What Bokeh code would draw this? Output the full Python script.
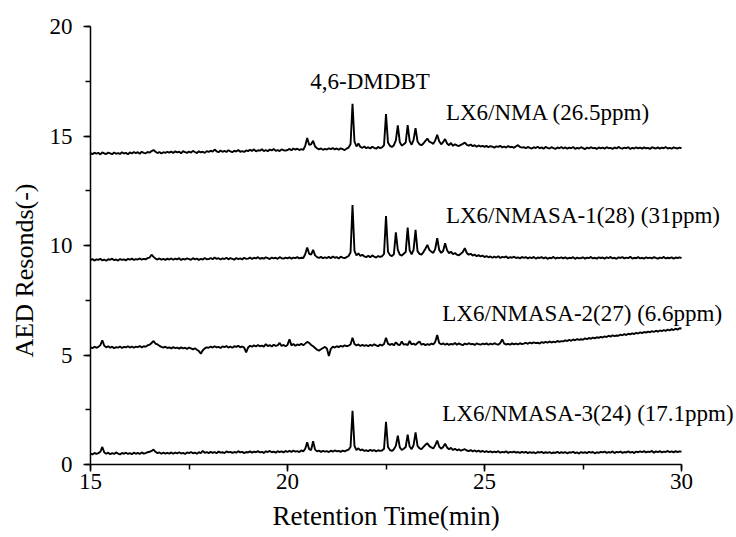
import numpy as np
from bokeh.plotting import figure
from bokeh.models import Range1d, SingleIntervalTicker, Label, Title
from bokeh.embed import file_html
from bokeh.resources import INLINE

# Sampling grid of the chromatograms (min), 0.05 min step
time_min = [round(15 + 0.05 * i, 2) for i in range(301)]

lx6_nma = [
    14.22, 14.17, 14.24, 14.19, 14.23, 14.16, 14.25, 14.20, 14.18, 14.24, 14.21, 14.17, 14.25, 14.19, 14.22, 14.18, 14.26, 14.20, 14.23, 14.17,
    14.25, 14.20, 14.27, 14.22, 14.26, 14.19, 14.28, 14.23, 14.21, 14.27, 14.24, 14.31, 14.36, 14.28, 14.22, 14.27, 14.20, 14.26, 14.23, 14.28,
    14.24, 14.29, 14.22, 14.30, 14.25, 14.28, 14.21, 14.31, 14.26, 14.23, 14.29, 14.24, 14.32, 14.27, 14.22, 14.30, 14.25, 14.28, 14.23, 14.31,
    14.27, 14.33, 14.29, 14.38, 14.30, 14.26, 14.34, 14.28, 14.32, 14.27, 14.35, 14.30, 14.26, 14.33, 14.29, 14.36, 14.28, 14.31, 14.27, 14.34,
    14.31, 14.37, 14.32, 14.39, 14.30, 14.35, 14.33, 14.40, 14.31, 14.36, 14.30, 14.38, 14.34, 14.41, 14.32, 14.36, 14.31, 14.39, 14.35, 14.33,
    14.36, 14.41, 14.35, 14.43, 14.38, 14.42, 14.36, 14.40, 14.37, 14.55, 14.91, 14.60, 14.62, 14.78, 14.52, 14.44, 14.39, 14.43, 14.37, 14.41,
    14.38, 14.44, 14.40, 14.45, 14.39, 14.43, 14.37, 14.44, 14.40, 14.36, 14.42, 14.47, 14.62, 16.47, 14.75, 14.52, 14.66, 14.50, 14.46, 14.52,
    14.44, 14.49, 14.43, 14.51, 14.46, 14.42, 14.50, 14.45, 14.48, 14.58, 16.00, 14.70, 14.55, 14.50, 14.58, 14.80, 15.49, 14.72, 14.56, 14.62,
    14.70, 15.50, 14.78, 14.60, 14.82, 15.36, 14.75, 14.62, 14.58, 14.66, 14.78, 14.88, 14.74, 14.70, 14.64, 14.80, 15.06, 14.76, 14.62, 14.72,
    14.86, 14.66, 14.58, 14.68, 14.55, 14.62, 14.57, 14.54, 14.60, 14.64, 14.70, 14.60, 14.56, 14.61, 14.53, 14.58, 14.51, 14.57, 14.52, 14.55,
    14.50, 14.55, 14.49, 14.54, 14.51, 14.47, 14.53, 14.50, 14.55, 14.48, 14.52, 14.47, 14.54, 14.49, 14.51, 14.46, 14.53, 14.58, 14.50, 14.47,
    14.49, 14.44, 14.50, 14.46, 14.43, 14.49, 14.45, 14.51, 14.44, 14.48, 14.42, 14.50, 14.46, 14.43, 14.49, 14.45, 14.41, 14.48, 14.44, 14.50,
    14.43, 14.48, 14.42, 14.47, 14.44, 14.50, 14.41, 14.46, 14.43, 14.49, 14.45, 14.40, 14.47, 14.43, 14.49, 14.44, 14.46, 14.41, 14.48, 14.44,
    14.47, 14.42, 14.49, 14.44, 14.46, 14.41, 14.48, 14.43, 14.50, 14.45, 14.42, 14.47, 14.44, 14.49, 14.41, 14.46, 14.43, 14.48, 14.44, 14.47,
    14.42, 14.48, 14.44, 14.46, 14.41, 14.49, 14.45, 14.43, 14.48, 14.42, 14.47, 14.44, 14.50, 14.43, 14.46, 14.42, 14.48, 14.45, 14.43, 14.47,
    14.44,
]

lx6_nmasa1 = [
    9.33, 9.38, 9.31, 9.37, 9.34, 9.39, 9.32, 9.36, 9.30, 9.37, 9.35, 9.40, 9.33, 9.36, 9.31, 9.38, 9.34, 9.37, 9.32, 9.39,
    9.35, 9.40, 9.34, 9.38, 9.36, 9.41, 9.35, 9.39, 9.37, 9.42, 9.45, 9.58, 9.48, 9.40, 9.36, 9.41, 9.35, 9.39, 9.34, 9.40,
    9.36, 9.41, 9.35, 9.40, 9.37, 9.42, 9.34, 9.39, 9.36, 9.41, 9.38, 9.35, 9.42, 9.37, 9.40, 9.34, 9.39, 9.36, 9.43, 9.37,
    9.38, 9.43, 9.37, 9.45, 9.39, 9.42, 9.36, 9.41, 9.38, 9.44, 9.37, 9.42, 9.39, 9.35, 9.43, 9.38, 9.41, 9.36, 9.44, 9.39,
    9.40, 9.45, 9.38, 9.44, 9.41, 9.47, 9.39, 9.43, 9.40, 9.46, 9.42, 9.38, 9.45, 9.41, 9.44, 9.39, 9.47, 9.42, 9.40, 9.45,
    9.41, 9.46, 9.40, 9.45, 9.42, 9.47, 9.41, 9.44, 9.43, 9.60, 9.91, 9.62, 9.58, 9.80, 9.55, 9.47, 9.43, 9.48, 9.42, 9.46,
    9.43, 9.48, 9.42, 9.50, 9.44, 9.47, 9.41, 9.49, 9.45, 9.42, 9.47, 9.52, 9.68, 11.85, 9.75, 9.55, 9.64, 9.52, 9.58, 9.50,
    9.47, 9.53, 9.46, 9.55, 9.49, 9.45, 9.52, 9.48, 9.51, 9.62, 11.35, 9.72, 9.56, 9.52, 9.60, 10.60, 9.80, 9.58, 9.54, 9.62,
    9.70, 10.82, 9.78, 9.60, 9.80, 10.71, 9.74, 9.62, 9.58, 9.70, 9.85, 10.03, 9.80, 9.72, 9.66, 9.85, 10.33, 9.80, 9.66, 9.75,
    10.10, 9.78, 9.65, 9.72, 9.60, 9.66, 9.58, 9.55, 9.62, 9.70, 9.88, 9.66, 9.58, 9.62, 9.54, 9.59, 9.51, 9.56, 9.50, 9.54,
    9.47, 9.52, 9.46, 9.50, 9.44, 9.49, 9.45, 9.51, 9.43, 9.48, 9.46, 9.50, 9.42, 9.47, 9.44, 9.49, 9.43, 9.46, 9.41, 9.48,
    9.43, 9.47, 9.41, 9.46, 9.42, 9.48, 9.40, 9.45, 9.43, 9.47, 9.41, 9.46, 9.39, 9.44, 9.42, 9.48, 9.40, 9.45, 9.42, 9.46,
    9.41, 9.46, 9.40, 9.44, 9.42, 9.47, 9.39, 9.45, 9.41, 9.43, 9.46, 9.40, 9.45, 9.42, 9.48, 9.41, 9.44, 9.40, 9.46, 9.43,
    9.45, 9.40, 9.46, 9.42, 9.48, 9.41, 9.44, 9.39, 9.46, 9.43, 9.47, 9.41, 9.45, 9.42, 9.49, 9.40, 9.44, 9.42, 9.47, 9.41,
    9.44, 9.40, 9.46, 9.42, 9.45, 9.41, 9.47, 9.43, 9.40, 9.45, 9.42, 9.48, 9.41, 9.44, 9.42, 9.46, 9.40, 9.45, 9.43, 9.46,
    9.42,
]

lx6_nmasa2 = [
    5.36, 5.31, 5.38, 5.33, 5.37, 5.45, 5.67, 5.42, 5.35, 5.40, 5.33, 5.38, 5.31, 5.36, 5.34, 5.39, 5.32, 5.37, 5.35, 5.40,
    5.34, 5.39, 5.33, 5.38, 5.36, 5.41, 5.35, 5.40, 5.38, 5.44, 5.47, 5.55, 5.64, 5.52, 5.48, 5.42, 5.37, 5.34, 5.38, 5.32,
    5.35, 5.30, 5.36, 5.31, 5.34, 5.29, 5.35, 5.30, 5.33, 5.28, 5.34, 5.30, 5.26, 5.31, 5.24, 5.18, 5.06, 5.22, 5.30, 5.35,
    5.33, 5.38, 5.34, 5.40, 5.35, 5.37, 5.32, 5.39, 5.36, 5.41, 5.34, 5.38, 5.33, 5.40, 5.37, 5.42, 5.35, 5.39, 5.34, 5.12,
    5.34, 5.42, 5.38, 5.44, 5.39, 5.46, 5.40, 5.43, 5.38, 5.50, 5.41, 5.45, 5.39, 5.47, 5.42, 5.44, 5.55, 5.41, 5.46, 5.40,
    5.46, 5.72, 5.44, 5.50, 5.42, 5.48, 5.45, 5.51, 5.44, 5.52, 5.60, 5.55, 5.46, 5.40, 5.32, 5.24, 5.20, 5.26, 5.32, 5.37,
    5.30, 4.95, 5.28, 5.38, 5.34, 5.40, 5.36, 5.42, 5.38, 5.44, 5.40, 5.43, 5.48, 5.79, 5.50, 5.44, 5.48, 5.41, 5.46, 5.42,
    5.45, 5.40, 5.47, 5.42, 5.49, 5.44, 5.40, 5.48, 5.43, 5.50, 5.79, 5.52, 5.46, 5.51, 5.44, 5.58, 5.48, 5.45, 5.62, 5.47,
    5.50, 5.45, 5.64, 5.48, 5.52, 5.46, 5.55, 5.62, 5.47, 5.51, 5.45, 5.50, 5.46, 5.52, 5.48, 5.60, 5.91, 5.55, 5.49, 5.53,
    5.47, 5.52, 5.46, 5.51, 5.48, 5.55, 5.47, 5.53, 5.49, 5.45, 5.52, 5.48, 5.54, 5.49, 5.51, 5.46, 5.53, 5.50, 5.47, 5.52,
    5.49, 5.53, 5.47, 5.52, 5.48, 5.54, 5.50, 5.47, 5.55, 5.71, 5.52, 5.48, 5.51, 5.47, 5.53, 5.49, 5.52, 5.48, 5.54, 5.50,
    5.52, 5.56, 5.51, 5.57, 5.53, 5.58, 5.54, 5.56, 5.52, 5.59, 5.55, 5.60, 5.56, 5.62, 5.57, 5.61, 5.58, 5.64, 5.60, 5.63,
    5.62, 5.67, 5.64, 5.69, 5.65, 5.71, 5.67, 5.73, 5.69, 5.72, 5.70, 5.76, 5.72, 5.78, 5.74, 5.79, 5.76, 5.81, 5.78, 5.83,
    5.80, 5.85, 5.82, 5.88, 5.84, 5.90, 5.86, 5.89, 5.88, 5.93, 5.90, 5.95, 5.91, 5.97, 5.94, 5.99, 5.96, 6.01, 5.98, 6.03,
    6.00, 6.05, 6.02, 6.07, 6.04, 6.09, 6.05, 6.11, 6.07, 6.12, 6.09, 6.14, 6.10, 6.16, 6.12, 6.18, 6.14, 6.20, 6.16, 6.22,
    6.21,
]

lx6_nmasa3 = [
    0.50, 0.46, 0.53, 0.48, 0.52, 0.58, 0.80, 0.55, 0.49, 0.54, 0.47, 0.52, 0.48, 0.55, 0.50, 0.46, 0.53, 0.49, 0.54, 0.48,
    0.52, 0.47, 0.54, 0.49, 0.53, 0.48, 0.55, 0.50, 0.52, 0.56, 0.58, 0.62, 0.68, 0.58, 0.52, 0.55, 0.49, 0.54, 0.50, 0.53,
    0.50, 0.55, 0.49, 0.54, 0.51, 0.56, 0.50, 0.53, 0.48, 0.55, 0.52, 0.57, 0.51, 0.54, 0.49, 0.56, 0.52, 0.62, 0.53, 0.57,
    0.52, 0.58, 0.53, 0.57, 0.51, 0.59, 0.54, 0.56, 0.52, 0.60, 0.55, 0.58, 0.53, 0.57, 0.54, 0.61, 0.55, 0.58, 0.52, 0.57,
    0.55, 0.60, 0.54, 0.59, 0.56, 0.61, 0.55, 0.58, 0.53, 0.60, 0.57, 0.62, 0.56, 0.59, 0.54, 0.61, 0.57, 0.60, 0.55, 0.62,
    0.57, 0.62, 0.58, 0.63, 0.59, 0.61, 0.57, 0.64, 0.60, 0.72, 1.01, 0.70, 0.66, 1.06, 0.68, 0.60, 0.63, 0.58, 0.62, 0.59,
    0.61, 0.57, 0.63, 0.59, 0.64, 0.60, 0.62, 0.58, 0.63, 0.60, 0.64, 0.68, 0.80, 2.45, 0.85, 0.66, 0.74, 0.64, 0.69, 0.62,
    0.65, 0.61, 0.67, 0.62, 0.66, 0.60, 0.65, 0.62, 0.64, 0.72, 1.95, 0.80, 0.66, 0.62, 0.70, 0.85, 1.32, 0.78, 0.66, 0.72,
    0.80, 1.36, 0.82, 0.70, 0.88, 1.47, 0.85, 0.74, 0.70, 0.80, 0.90, 0.97, 0.84, 0.78, 0.73, 0.88, 1.09, 0.82, 0.72, 0.80,
    0.95, 0.78, 0.70, 0.76, 0.66, 0.72, 0.65, 0.69, 0.63, 0.67, 0.70, 0.64, 0.61, 0.66, 0.60, 0.64, 0.59, 0.63, 0.58, 0.62,
    0.57, 0.61, 0.56, 0.60, 0.55, 0.59, 0.56, 0.61, 0.54, 0.58, 0.55, 0.60, 0.53, 0.58, 0.55, 0.59, 0.54, 0.57, 0.53, 0.58,
    0.54, 0.58, 0.52, 0.57, 0.53, 0.56, 0.51, 0.57, 0.54, 0.58, 0.52, 0.56, 0.53, 0.57, 0.51, 0.55, 0.53, 0.58, 0.52, 0.56,
    0.53, 0.57, 0.51, 0.56, 0.54, 0.58, 0.52, 0.55, 0.50, 0.57, 0.53, 0.56, 0.52, 0.58, 0.54, 0.57, 0.51, 0.56, 0.53, 0.58,
    0.55, 0.59, 0.53, 0.57, 0.54, 0.60, 0.52, 0.58, 0.55, 0.59, 0.53, 0.57, 0.55, 0.60, 0.54, 0.58, 0.52, 0.59, 0.56, 0.60,
    0.56, 0.61, 0.55, 0.59, 0.57, 0.62, 0.54, 0.60, 0.56, 0.61, 0.55, 0.59, 0.57, 0.62, 0.56, 0.60, 0.55, 0.61, 0.57, 0.60,
    0.59,
]

series = [lx6_nma, lx6_nmasa1, lx6_nmasa2, lx6_nmasa3]
series_labels = ["LX6/NMA (26.5ppm)", "LX6/NMASA-1(28) (31ppm)",
                 "LX6/NMASA-2(27) (6.6ppm)", "LX6/NMASA-3(24) (17.1ppm)"]
label_x = [24.02, 24.02, 23.93, 23.93]
label_y = [16.08, 11.36, 6.91, 2.34]
peak_label = "4,6-DMDBT"
peak_label_x = 20.58
peak_label_y = 17.51
x_title = "Retention Time(min)"
y_title = "AED Resonds(-)"

FONT = "Liberation Serif"

# frame: x=15 at 90px, x=30 at 681px; extended to the right edge so labels are not clipped
PX_PER_MIN = (681 - 90) / 15.0
x_end = 15 + (736 - 90) / PX_PER_MIN

p = figure(width=736, height=537, output_backend="svg", toolbar_location=None,
           x_range=Range1d(15, x_end), y_range=Range1d(0, 20),
           min_border_left=90, min_border_right=0, min_border_top=26, min_border_bottom=73)
p.outline_line_color = None
p.xgrid.visible = False
p.ygrid.visible = False
p.background_fill_color = "white"
p.border_fill_color = "white"

for ys in series:
    p.line(time_min, ys, line_color="black", line_width=1.9)

for ax in (p.xaxis[0], p.yaxis[0]):
    ax.ticker = SingleIntervalTicker(interval=5, num_minor_ticks=2)
    ax.axis_line_width = 1.5
    ax.axis_line_color = "black"
    ax.major_tick_line_width = 1.5
    ax.minor_tick_line_width = 1.5
    ax.major_tick_line_color = "black"
    ax.minor_tick_line_color = "black"
    ax.major_tick_out = 7
    ax.major_tick_in = 0
    ax.minor_tick_out = 5
    ax.minor_tick_in = 0
    ax.major_label_text_font = FONT
    ax.major_label_text_font_size = "23px"
    ax.major_label_text_color = "black"

p.xaxis[0].bounds = (15, 30)
p.yaxis[0].major_label_standoff = 11
p.xaxis[0].major_label_standoff = 2

# titles placed with left alignment + offset (offset is ignored for centered titles)
p.add_layout(Title(text=x_title, align="left", offset=182, standoff=14,
                   text_font=FONT, text_font_size="27px", text_font_style="normal",
                   text_color="black"), "below")
p.add_layout(Title(text=y_title, align="left", offset=107, standoff=15,
                   text_font=FONT, text_font_size="26px", text_font_style="normal",
                   text_color="black"), "left")

for txt, lx, ly in zip(series_labels, label_x, label_y):
    p.add_layout(Label(x=lx, y=ly, text=txt, text_font=FONT, text_font_size="23px",
                       text_color="black", text_baseline="alphabetic", text_align="left"))

p.add_layout(Label(x=peak_label_x, y=peak_label_y, text=peak_label, text_font=FONT,
                   text_font_size="23px", text_color="black",
                   text_baseline="alphabetic", text_align="left"))

open("out.html", "w").write(file_html(p, INLINE))
